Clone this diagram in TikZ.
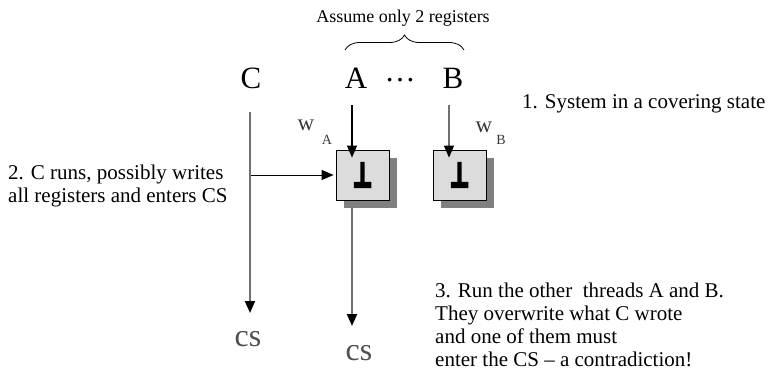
\documentclass[tikz,border=0pt]{standalone}
\usepackage{fontspec}
\usepackage{graphicx}
\setmainfont{Liberation Serif}
\newfontfamily\symfont[FakeBold=14]{DejaVu Sans}
\usetikzlibrary{arrows.meta,decorations.pathreplacing}
\definecolor{boxfill}{HTML}{DCDCDC}
\definecolor{shadowgray}{HTML}{808080}
\definecolor{linegray}{HTML}{707070}
\definecolor{textgray}{HTML}{505050}
\definecolor{wgray}{HTML}{383838}
\tikzset{
  txt/.style={inner sep=0pt, font=\fontsize{21}{23}\selectfont, align=left},
  big/.style={inner sep=0pt, font=\fontsize{31}{36}\selectfont},
  regbox/.style={draw=black, line width=0.8pt, fill=boxfill, minimum width=53pt, minimum height=50pt, inner sep=0pt,
    font=\symfont\fontsize{26}{26}\selectfont},
  shadowbox/.style={fill=shadowgray, minimum width=53pt, minimum height=50pt, inner sep=0pt},
  tip/.style={-{Triangle[length=12pt,width=10pt,color=black,fill=black]}},
  grayline/.style={tip, draw=linegray, line width=2pt},
  blackline/.style={tip, draw=black, line width=1.2pt},
  wlab/.style={inner sep=0pt, text=wgray, font=\fontsize{23}{23}\selectfont},
  wsub/.style={inner sep=0pt, text=wgray, font=\fontsize{14}{14}\selectfont},
  cslab/.style={inner sep=0pt, text=textgray, font=\fontsize{32}{32}\selectfont},
}
\begin{document}
\begin{tikzpicture}[x=1pt,y=-1pt]
\useasboundingbox (0,0) rectangle (768,375);
% top
\node[inner sep=0pt, font=\fontsize{18}{20}\selectfont] (assume) at (403,18) {Assume only 2 registers};
\coordinate (brL) at (345,50);
\coordinate (brR) at (464,50);
\draw[decorate, decoration={brace, amplitude=15pt}, line width=0.8pt] (brL) -- (brR);
\node[big] (C) at (251,78) {C};
\node[big] (A) at (356,78) {A};
\node[big] (dots) at (400,80) {…};
\node[big] (B) at (453,78) {B};
\node[txt, anchor=west] (s1) at (522,104) {1. System in a covering state};
% boxes
\node[shadowbox] (shA) at (370.5,183) {};
\node[regbox] (boxA) at (362.5,175) {\scalebox{0.8}[1.2]{⊥}};
\node[shadowbox] (shB) at (467.5,183) {};
\node[regbox] (boxB) at (459.5,175) {\scalebox{0.8}[1.2]{⊥}};
% w labels
\node[wlab] (wA) at (306,125) {w};
\node[wsub] (wAs) at (327,140) {A};
\node[wlab] (wB) at (484,127) {w};
\node[wsub] (wBs) at (501,140) {B};
% arrows into boxes
\coordinate (aTop) at (352,105);
\coordinate (bTop) at (449,105);
\draw[blackline] (aTop) -- ([xshift=-10.5pt,yshift=-8pt]boxA.north);
\draw[grayline, line width=1.5pt] (bTop) -- ([xshift=-10.5pt,yshift=-8pt]boxB.north);
% C line
\coordinate (cTop) at (250,112);
\node[cslab] (cs1) at (248,339) {cs};
\node[cslab] (cs2) at (359,353) {cs};
\coordinate (cEnd) at (250,313);
\draw[grayline] (cTop) -- (cEnd);
\coordinate (cMid) at (251,175);
\draw[tip, line width=1pt] (cMid) -- ([xshift=-2pt]boxA.west);
% A down
\coordinate (aBot) at (352,207);
\coordinate (aEnd) at (352,326);
\draw[grayline] (aBot) -- (aEnd);
% texts
\node[txt, anchor=west] (s2) at (8,186) {2. C runs, possibly writes\\all registers and enters CS};
\node[txt, anchor=west] (s3) at (435,325) {3. Run the other \ threads A and B.\\They overwrite what C wrote\\and one of them must\\enter the CS -- a contradiction!};
\end{tikzpicture}
\end{document}
